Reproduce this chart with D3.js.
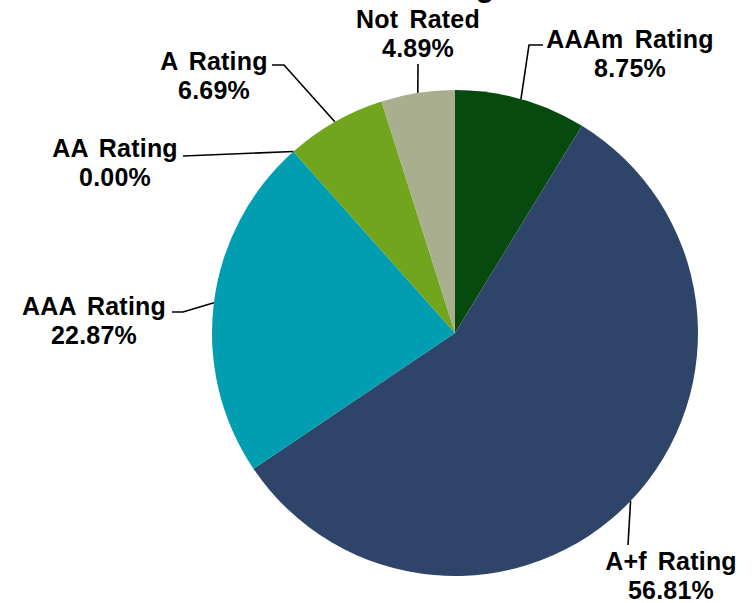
<!DOCTYPE html>
<html>
<head>
<meta charset="utf-8">
<script src="https://cdn.jsdelivr.net/npm/d3@7"></script>
<style>
  html, body { margin: 0; padding: 0; background: #ffffff; }
  svg { display: block; }
  text { font-family: "Liberation Sans", Arial, sans-serif; font-weight: bold; fill: #000; }
</style>
</head>
<body>
<script>
// ---- data ----
const categories = ["AAAm Rating", "A+f Rating", "AAA Rating", "AA Rating", "A Rating", "Not Rated"];
const values = [8.75, 56.81, 22.87, 0.00, 6.69, 4.89];
const valueLabels = ["8.75%", "56.81%", "22.87%", "0.00%", "6.69%", "4.89%"];
const colors = ["#064a10", "#2e4468", "#009eb0", "#5c8fa8", "#72a51e", "#a9ae8e"];
const titleText = "Rating";

// ---- layout ----
const W = 753, H = 603;
const cx = 455, cy = 333, R = 243;

// label anchor (text centre x, first baseline y) and leader elbow points
const labelPos = [
  { x: 630, y: 48,  elbow: [[529, 45], [543, 45]] },
  { x: 671, y: 570, elbow: [[628, 545]] },
  { x: 94,  y: 315, elbow: [[183, 312], [172, 312]] },
  { x: 115, y: 157, elbow: [[183, 156]] },
  { x: 214, y: 70,  elbow: [[284, 65], [272, 65]] },
  { x: 418, y: 28,  elbow: [[418, 64]] }
];

const svg = d3.select("body").append("svg")
  .attr("width", W).attr("height", H);

// partially visible title at top
svg.append("text")
  .attr("x", 494).attr("y", -3)
  .attr("text-anchor", "end")
  .style("font-size", "30px")
  .text(titleText);

const data = categories.map((c, i) => ({ cat: c, value: values[i], label: valueLabels[i], i }));

const pie = d3.pie().sort(null).value(d => d.value).startAngle(0).endAngle(2 * Math.PI);
const arcs = pie(data);
const arc = d3.arc().innerRadius(0).outerRadius(R);

const g = svg.append("g").attr("transform", `translate(${cx},${cy})`);

g.selectAll("path.slice")
  .data(arcs)
  .join("path")
  .attr("class", "slice")
  .attr("d", arc)
  .attr("fill", d => colors[d.data.i]);

// leader lines
const line = d3.line();
arcs.forEach(a => {
  const mid = (a.startAngle + a.endAngle) / 2;
  const px = cx + R * Math.sin(mid);
  const py = cy - R * Math.cos(mid);
  const pts = [[px, py]].concat(labelPos[a.data.i].elbow);
  svg.append("path")
    .attr("d", line(pts))
    .attr("fill", "none")
    .attr("stroke", "#000")
    .attr("stroke-width", 1.6);
});

// labels
arcs.forEach(a => {
  const p = labelPos[a.data.i];
  const t = svg.append("text")
    .attr("text-anchor", "middle")
    .style("font-size", "25px")
    .style("word-spacing", "4px")
    .style("letter-spacing", "0.2px");
  t.append("tspan").attr("x", p.x).attr("y", p.y).text(a.data.cat);
  t.append("tspan").attr("x", p.x).attr("y", p.y + 29).text(a.data.label);
});
</script>
</body>
</html>
